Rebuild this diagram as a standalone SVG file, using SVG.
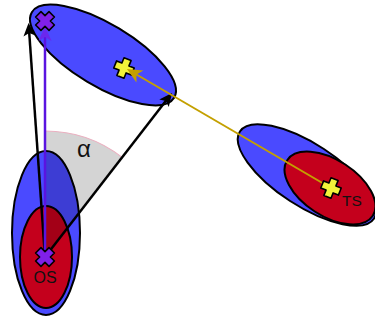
<svg xmlns="http://www.w3.org/2000/svg" width="375" height="320" viewBox="0 0 375 320">
<style>
.blue{fill:#4a4aff;stroke:#000;stroke-width:2}
.red{fill:#c4001c;stroke:#000;stroke-width:2}
.lbl{font-family:"Liberation Sans",Arial,sans-serif;fill:#111}
.yc{fill:#f2f23a;stroke:#000;stroke-width:1.6;stroke-linejoin:round}
.pc{fill:#8020e8;stroke:#000;stroke-width:1.6;stroke-linejoin:round}
</style>
<defs>
<path id="cross" d="M-3.8,-9.5H3.8V-3.8H9.5V3.8H3.8V9.5H-3.8V3.8H-9.5V-3.8H-3.8Z"/>
<marker id="ab" markerUnits="userSpaceOnUse" markerWidth="16" markerHeight="14" viewBox="-14 -7 16 14" refX="-8" refY="0" orient="auto"><path d="M0,0L-13,-6L-10,0L-13,6Z" fill="#000"/></marker>
<marker id="ap" markerUnits="userSpaceOnUse" markerWidth="18" markerHeight="16" viewBox="-16 -8 18 16" refX="-8" refY="0" orient="auto"><path d="M0,0L-15,-6.5L-11,0L-15,6.5Z" fill="#6a28ee"/></marker>
<marker id="ay" markerUnits="userSpaceOnUse" markerWidth="18" markerHeight="16" viewBox="-16 -8 18 16" refX="-8" refY="0" orient="auto"><path d="M0,0L-15,-7L-11,0L-15,7Z" fill="#c4a000"/></marker>
</defs>
<g id="os-region">
<ellipse class="blue" cx="46" cy="233" rx="34" ry="82"/>
<ellipse class="red" cx="46" cy="257" rx="26" ry="51"/>
</g>
<g id="upper-region">
<ellipse class="blue" cx="103" cy="55" rx="83" ry="31" transform="rotate(31 103 55)"/>
</g>
<g id="ts-region">
<ellipse class="blue" cx="307" cy="175" rx="80" ry="31" transform="rotate(33 307 175)"/>
<ellipse class="red" cx="330" cy="188" rx="51" ry="28" transform="rotate(33 330 188)"/>
</g>
<g id="angle">
<path d="M45,257L45,131A126,126 0 0 1 122.2,157.4Z" fill="#000" fill-opacity="0.17"/>
<path d="M45,131A126,126 0 0 1 122.2,157.4" fill="none" stroke="#eab0c0" stroke-width="1.2"/>
<text class="lbl" x="84" y="157" font-size="24" text-anchor="middle">α</text>
</g>
<g id="upper-point">
<use href="#cross" class="yc" transform="translate(124 68) rotate(22)"/>
</g>
<g id="connectors" fill="none">
<path d="M45,257L29.1,31" stroke="#000" stroke-width="2.5" marker-end="url(#ab)"/>
<path d="M45,257L167.1,99.3" stroke="#000" stroke-width="2.5" marker-end="url(#ab)"/>
<path d="M45,257L45,34" stroke="#5a14e0" stroke-width="2.5" marker-end="url(#ap)"/>
<path d="M331,188L133.9,73" stroke="#c4a000" stroke-width="2" marker-end="url(#ay)"/>
</g>
<g id="os-point">
<use href="#cross" class="pc" transform="translate(45 257) rotate(45)"/>
<text class="lbl" x="45" y="283" font-size="16" text-anchor="middle">OS</text>
</g>
<g id="target-point">
<use href="#cross" class="pc" transform="translate(45 21) rotate(45)"/>
</g>
<g id="ts-point">
<use href="#cross" class="yc" transform="translate(331 188) rotate(22)"/>
<text class="lbl" x="342" y="206" font-size="15.5">TS</text>
</g>
</svg>
